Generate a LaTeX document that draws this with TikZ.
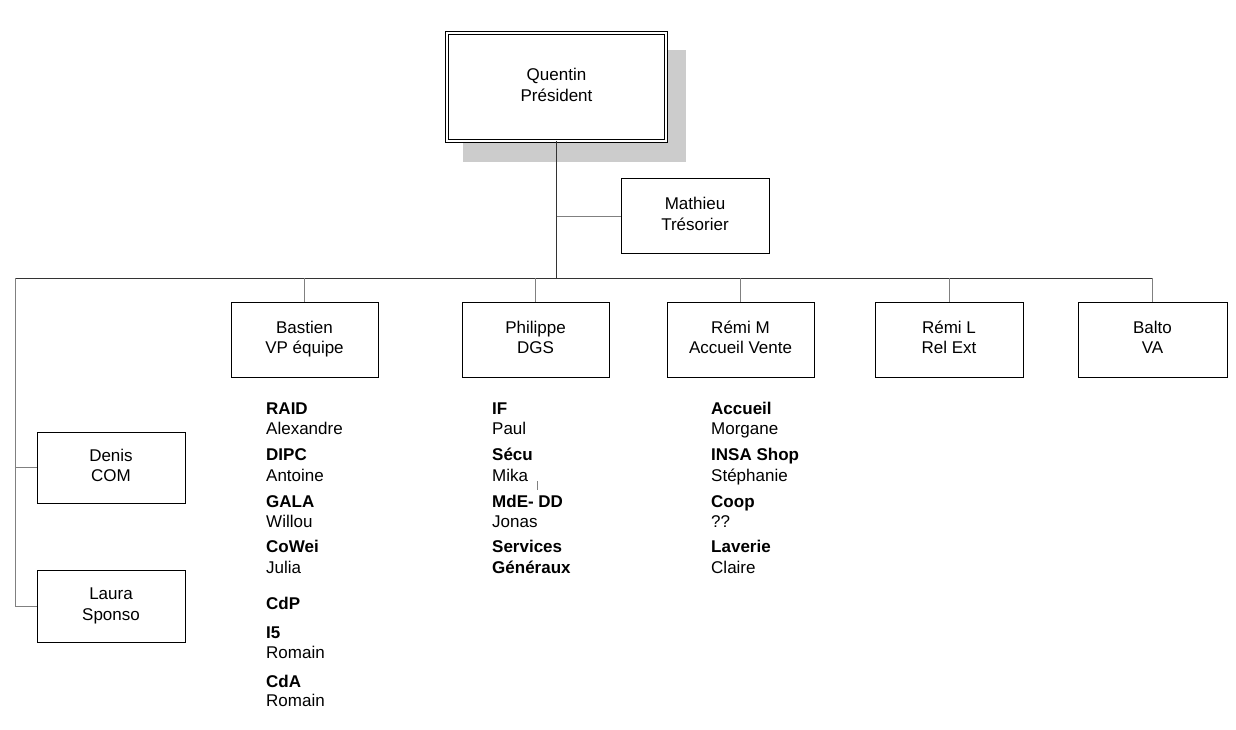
\documentclass[tikz,border=0pt]{standalone}
\usepackage{fontspec}
\setmainfont{Liberation Sans}
\usetikzlibrary{calc}

\tikzset{
    posbox/.style={rectangle, draw=black, line width=1pt, fill=white, minimum width=147, minimum height=75, inner sep=0pt, font=\fontsize{17}{20.5}\selectfont},
    busline/.style={draw=black!80, line width=1pt},
    stub/.style={draw=black!50, line width=1pt},
    role/.style={anchor=base west, inner sep=0pt, font=\fontsize{17}{20.5}\selectfont\bfseries},
    person/.style={anchor=base west, inner sep=0pt, font=\fontsize{17}{20.5}\selectfont}
}

\begin{document}
\begin{tikzpicture}[x=1pt, y=-1pt]
    \useasboundingbox (0,0) rectangle (1236,730);

    % president with shadow
    \fill[black!20] (463,50) rectangle (686,162);
    \node (pres) [posbox, double, double distance=2pt, line width=1pt, minimum width=219, minimum height=108] at (556.5,87) {\begin{tabular}{c}
         Quentin\\ Président
    \end{tabular}};

    \node (mat) [posbox, minimum width=148, minimum height=74] at (695,216) {\begin{tabular}{c}
         Mathieu\\ Trésorier
    \end{tabular}};

    % second level
    \node (bas) [posbox] at (304.5,339.5) {\begin{tabular}{c}
         Bastien\\ VP équipe
    \end{tabular}};
    \node (phi) [posbox] at (535.5,339.5) {\begin{tabular}{c}
         Philippe\\ DGS
    \end{tabular}};
    \node (remm) [posbox] at (740.5,339.5) {\begin{tabular}{c}
         Rémi M\\ Accueil Vente
    \end{tabular}};
    \node (reml) [posbox, minimum width=148] at (949,339.5) {\begin{tabular}{c}
         Rémi L\\ Rel Ext
    \end{tabular}};
    \node (bal) [posbox, minimum width=149] at (1152.5,339.5) {\begin{tabular}{c}
         Balto\\ VA
    \end{tabular}};

    % left branch
    \node (den) [posbox, minimum width=148, minimum height=71] at (111,467.5) {\begin{tabular}{c}
         Denis\\ COM
    \end{tabular}};
    \node (lau) [posbox, minimum width=148, minimum height=72] at (111,606) {\begin{tabular}{c}
         Laura\\ Sponso
    \end{tabular}};

    % connectors
    \coordinate (busL) at (15,278);
    \coordinate (busR) at (bal.north |- busL);
    \draw[busline] (pres.south) -- (pres.south |- busL);
    \draw[busline] (busL) -- (busR);
    \draw[stub] (pres.south |- mat.west) -- (mat.west);
    \foreach \n in {bas,phi,remm,reml,bal}
        \draw[stub] (\n.north |- busL) -- (\n.north);
    \draw[stub] (busL) -- (busL |- lau.west);
    \draw[stub] (busL |- den.west) -- (den.west);
    \draw[stub] (busL |- lau.west) -- (lau.west);

    % teams under Bastien
    \foreach \y/\t [count=\i] in {414/RAID, 460/DIPC, 507/GALA, 552/CoWei, 609/CdP, 638/I5, 687/CdA}
        \node (basR\i) [role] at (266,\y) {\t};
    \foreach \y/\t [count=\i] in {434/Alexandre, 481/Antoine, 527/Willou, 573/Julia, 658/Romain, 706/Romain}
        \node (basP\i) [person] at (266,\y) {\t};

    % teams under Philippe
    \foreach \y/\t [count=\i] in {414/IF, 460/Sécu, 507/MdE- DD, 552/Services, 573/Généraux}
        \node (phiR\i) [role] at (492,\y) {\t};
    \foreach \y/\t [count=\i] in {434/Paul, 481/Mika, 527/Jonas}
        \node (phiP\i) [person] at (492,\y) {\t};
    \draw[draw=black!50, line width=0.7pt] (537,481) -- (537,490);

    % teams under Remi M
    \foreach \y/\t [count=\i] in {414/Accueil, 460/INSA Shop, 507/Coop, 552/Laverie}
        \node (remR\i) [role] at (711,\y) {\t};
    \foreach \y/\t [count=\i] in {434/Morgane, 481/Stéphanie, 527/??, 573/Claire}
        \node (remP\i) [person] at (711,\y) {\t};
\end{tikzpicture}
\end{document}
